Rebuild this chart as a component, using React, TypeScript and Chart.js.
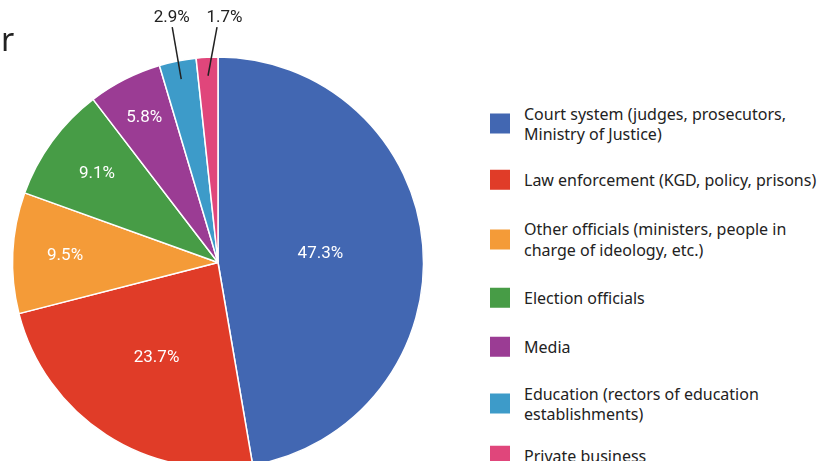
import React, { useEffect, useRef } from "react";
import { Chart, registerables } from "chart.js";

Chart.register(...registerables);

const categories = [
  "Court system (judges, prosecutors, Ministry of Justice)",
  "Law enforcement (KGD, policy, prisons)",
  "Other officials (ministers, people in charge of ideology, etc.)",
  "Election officials",
  "Media",
  "Education (rectors of education establishments)",
  "Private business",
];
const values = [47.3, 23.7, 9.5, 9.1, 5.8, 2.9, 1.7];
const valueLabels = ["47.3%", "23.7%", "9.5%", "9.1%", "5.8%", "2.9%", "1.7%"];
const colors = ["#4267B2", "#E03C28", "#F49B38", "#479C46", "#9B3C94", "#3D9BC9", "#E0467B"];
const titleTail = "r";

// label / legend placement (style only)
const insideRadius = [0.5, 0.55, 0.745, 0.73, 0.79];
const outsideLeaderDx: Record<number, number> = { 5: -9, 6: 9 };
const outsideTextDx: Record<number, number> = { 5: -0.5, 6: 7.5 };
const legendCenterY = [123.5, 179.5, 239, 298, 346.5, 403.5, 456];

const FONT = "'Noto Sans', sans-serif";

const labelPlugin = {
  id: "sliceLabels",
  afterDatasetsDraw(chart: any) {
    const ctx = chart.ctx;
    const meta = chart.getDatasetMeta(0);
    ctx.save();
    ctx.font = "17px Roboto, sans-serif";
    ctx.textAlign = "center";
    ctx.textBaseline = "middle";
    meta.data.forEach((arc: any, i: number) => {
      const p = arc.getProps(["x", "y", "startAngle", "endAngle", "outerRadius"], true);
      const mid = (p.startAngle + p.endAngle) / 2;
      const cos = Math.cos(mid);
      const sin = Math.sin(mid);
      if (i < insideRadius.length) {
        const r = p.outerRadius * insideRadius[i];
        ctx.fillStyle = "#ffffff";
        ctx.fillText(valueLabels[i], p.x + cos * r, p.y + sin * r);
      } else {
        const sx = p.x + cos * p.outerRadius * 0.91;
        const sy = p.y + sin * p.outerRadius * 0.91;
        const ex = sx + (outsideLeaderDx[i] || 0);
        const ey = p.y - p.outerRadius * 1.145;
        ctx.strokeStyle = "#222222";
        ctx.lineWidth = 1.5;
        ctx.beginPath();
        ctx.moveTo(sx, sy);
        ctx.lineTo(ex, ey);
        ctx.stroke();
        ctx.fillStyle = "#222222";
        ctx.fillText(valueLabels[i], ex + (outsideTextDx[i] || 0), ey - 9);
      }
    });
    ctx.restore();
  },
};

export default function App() {
  const ref = useRef<HTMLCanvasElement | null>(null);
  useEffect(() => {
    if (!ref.current) return;
    const chart = new Chart(ref.current, {
      type: "pie",
      data: {
        labels: categories,
        datasets: [
          {
            data: values,
            backgroundColor: colors,
            borderColor: "#ffffff",
            borderWidth: 1.5,
          },
        ],
      },
      options: {
        responsive: false,
        maintainAspectRatio: false,
        animation: false,
        radius: 205.5,
        layout: { padding: 0 },
        plugins: {
          legend: { display: false },
          tooltip: { enabled: false },
        },
      } as any,
      plugins: [labelPlugin],
    });
    return () => chart.destroy();
  }, []);

  return (
    <div
      style={{
        position: "fixed",
        left: 0,
        top: 0,
        width: 828,
        height: 461,
        overflow: "hidden",
        background: "#ffffff",
        fontFamily: FONT,
      }}
    >
      <canvas
        ref={ref}
        width={436}
        height={525}
        style={{ position: "absolute", left: 0, top: 0, width: 436, height: 525 }}
      />
      <div
        style={{
          position: "absolute",
          left: 1,
          top: 23,
          fontSize: 32,
          lineHeight: "32px",
          color: "#222",
        }}
      >
        {titleTail}
      </div>
      {categories.map((c, i) => (
        <div
          key={c}
          style={{
            position: "absolute",
            left: 490,
            top: legendCenterY[i],
            transform: "translateY(-50%)",
            display: "flex",
            alignItems: "center",
          }}
        >
          <div
            style={{
              width: 20,
              height: 20,
              background: colors[i],
              flex: "0 0 auto",
            }}
          />
          <div
            style={{
              marginLeft: 14,
              width: 302,
              fontSize: 16,
              lineHeight: "20.5px",
              color: "#222",
            }}
          >
            {c}
          </div>
        </div>
      ))}
    </div>
  );
}
